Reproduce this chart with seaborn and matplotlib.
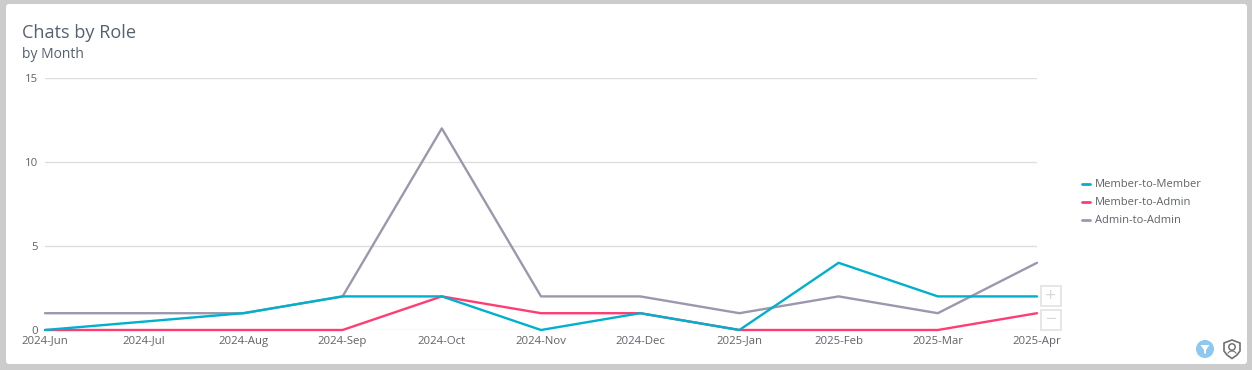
from __future__ import annotations

import matplotlib

matplotlib.use("Agg")

import matplotlib.pyplot as plt
import pandas as pd
import seaborn as sns
from matplotlib.patches import Circle, FancyBboxPatch, Polygon, Rectangle, Wedge


MONTHS = [
    "2024-Jun", "2024-Jul", "2024-Aug", "2024-Sep", "2024-Oct", "2024-Nov",
    "2024-Dec", "2025-Jan", "2025-Feb", "2025-Mar", "2025-Apr",
]
MEMBER_TO_MEMBER = [0, 0.5, 1, 2, 2, 0, 1, 0, 4, 2, 2]
MEMBER_TO_ADMIN = [0, 0, 0, 0, 2, 1, 1, 0, 0, 0, 1]
ADMIN_TO_ADMIN = [1, 1, 1, 2, 12, 2, 2, 1, 2, 1, 4]
Y_TICKS = [0, 5, 10, 15]

LEGEND_ORDER = ["Member-to-Member", "Member-to-Admin", "Admin-to-Admin"]
COLORS = {
    "Member-to-Member": "#00b0cc",
    "Member-to-Admin": "#ff3d73",
    "Admin-to-Admin": "#9c97ad",
}
TEXT_COLOR = "#5f6368"
TITLE_COLOR = "#566070"
WIDTH, HEIGHT = 1252, 370


def px_x(x: float) -> float:
    return x / WIDTH


def px_y(y: float) -> float:
    return 1 - y / HEIGHT


def build_frame() -> pd.DataFrame:
    frames = []
    for role, values in [
        ("Admin-to-Admin", ADMIN_TO_ADMIN),
        ("Member-to-Admin", MEMBER_TO_ADMIN),
        ("Member-to-Member", MEMBER_TO_MEMBER),
    ]:
        frames.append(pd.DataFrame({"month": MONTHS, "chats": values, "role": role}))
    return pd.concat(frames, ignore_index=True)


def draw_card(fig) -> None:
    fig.patches.append(
        FancyBboxPatch(
            (6, HEIGHT - 364), 1241, 360,
            boxstyle="round,pad=0,rounding_size=3",
            transform=None, facecolor="white", edgecolor="none", zorder=-5,
        )
    )


def draw_legend(fig) -> None:
    for i, role in enumerate(LEGEND_ORDER):
        y = 184 + i * 18
        fig.add_artist(plt.Line2D([px_x(1082), px_x(1090)], [px_y(y), px_y(y)], color=COLORS[role], linewidth=2))
        fig.text(px_x(1095), px_y(y + 0.5), role, fontsize=8.05, color=TEXT_COLOR, va="center", ha="left")


def draw_controls(fig) -> None:
    for top, sign in [(286, "+"), (310, "\u2212")]:
        fig.patches.append(
            Rectangle((px_x(1041), px_y(top + 20)), px_x(20), 20 / HEIGHT, transform=fig.transFigure,
                      facecolor="white", edgecolor="#e6e6e6", linewidth=1.4)
        )
        fig.text(px_x(1051), px_y(top + 10), sign, fontsize=14, color="#d8d8d8", ha="center", va="center")

    # filter button
    fig.patches.append(
        Circle((1205, HEIGHT - 349), 9, transform=None, facecolor="#8cc8f0", edgecolor="none")
    )
    fig.patches.append(
        Polygon([(1200.5, HEIGHT - 345), (1209.5, HEIGHT - 345), (1206, HEIGHT - 350),
                 (1206, HEIGHT - 354), (1204, HEIGHT - 353), (1204, HEIGHT - 350)],
                transform=None, facecolor="white", edgecolor="none")
    )
    # shield icon with person
    fig.patches.append(
        Polygon([(1232, HEIGHT - 340), (1240, HEIGHT - 343), (1240, HEIGHT - 351),
                 (1237, HEIGHT - 355), (1232, HEIGHT - 358.5), (1227, HEIGHT - 355),
                 (1224, HEIGHT - 351), (1224, HEIGHT - 343)],
                transform=None, facecolor="white", edgecolor="#707070", linewidth=1.2)
    )
    fig.patches.append(
        Circle((1232, HEIGHT - 347), 3.2, transform=None, facecolor="none", edgecolor="#707070", linewidth=1.1)
    )
    fig.patches.append(
        Wedge((1232, HEIGHT - 356), 5.5, 30, 150, width=1.1, transform=None, facecolor="#707070", edgecolor="none")
    )


def main() -> None:
    sns.set_theme(style="white")
    plt.rcParams["font.family"] = ["Open Sans", "DejaVu Sans"]

    fig = plt.figure(figsize=(WIDTH / 100, HEIGHT / 100), dpi=100, facecolor="#cccccc")
    draw_card(fig)

    ax = fig.add_axes([px_x(45), px_y(330), px_x(1037 - 45), (330 - 78) / HEIGHT])
    ax.patch.set_alpha(0)
    sns.lineplot(
        data=build_frame(),
        x="month",
        y="chats",
        hue="role",
        palette=COLORS,
        linewidth=1.7,
        sort=False,
        legend=False,
        ax=ax,
        clip_on=False,
        zorder=3,
    )

    ax.set_xlim(0, len(MONTHS) - 1)
    ax.set_ylim(0, 15)
    ax.set_yticks(Y_TICKS)
    ax.set_xlabel("")
    ax.set_ylabel("")
    ax.grid(axis="y", color="#dedede", linewidth=1)
    ax.grid(axis="x", visible=False)
    ax.set_axisbelow(True)
    sns.despine(ax=ax, left=True, bottom=True)
    ax.tick_params(axis="x", length=0, pad=4, labelsize=8.2, labelcolor=TEXT_COLOR)
    ax.tick_params(axis="y", length=0, pad=5, labelsize=8.2, labelcolor=TEXT_COLOR)

    fig.text(px_x(22), px_y(33), "Chats by Role", fontsize=13.1, color=TITLE_COLOR, va="center", ha="left")
    fig.text(px_x(22), px_y(54), "by Month", fontsize=10, color=TITLE_COLOR, va="center", ha="left")

    draw_legend(fig)
    draw_controls(fig)

    fig.savefig("out.png", dpi=100, facecolor=fig.get_facecolor())
    plt.close(fig)


if __name__ == "__main__":
    main()
